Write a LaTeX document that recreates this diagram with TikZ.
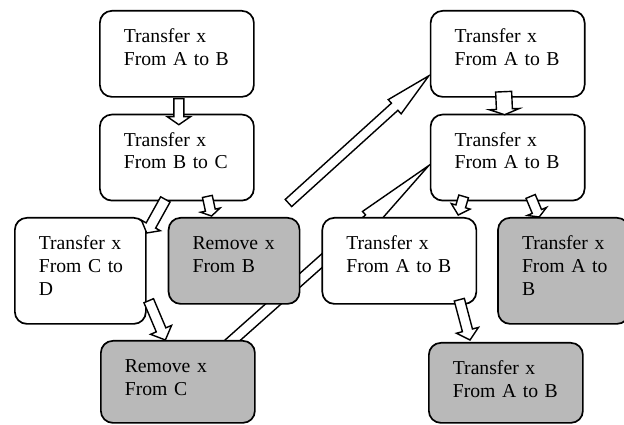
\documentclass[tikz,border=0pt]{standalone}
\usepackage{fontspec}
\setmainfont{Liberation Serif}
\usetikzlibrary{backgrounds,calc,positioning}
\tikzset{x=0.025cm, y=-0.025cm, % one unit is one pixel, y runs down
card/.style={draw, line width=1.2pt, rounded corners=0.3cm, fill=white, anchor=north west,
  align=left, text width=2.65cm, inner xsep=0.6cm, inner ysep=0pt,
  text height=0.7875cm, text depth=#1, font=\fontsize{14pt}{16.3pt}\selectfont}, % text sits top left
card/.default=1.3625cm,
narrow/.style={text width=2.075cm}, % the thinner boxes
shaded/.style={fill=gray!55}, % grey boxes
fat/.style={draw, line width=1pt, fill=white, line join=miter}, % outline of a block arrow
}
% tail, tip, half shaft, half head, head length
\newcommand\blockarrow[5]{%
\draw[fat] let \p1=(#1), \p2=(#2), \n1={atan2(\y2-\y1,\x2-\x1)} in
  ($(\p1)+({\n1+90}:#3)$) -- ($(\p2)+({\n1+180}:#5)+({\n1+90}:#3)$)
  -- ($(\p2)+({\n1+180}:#5)+({\n1+90}:#4)$) -- (\p2)
  -- ($(\p2)+({\n1+180}:#5)+({\n1-90}:#4)$) -- ($(\p2)+({\n1+180}:#5)+({\n1-90}:#3)$)
  -- ($(\p1)+({\n1-90}:#3)$) -- cycle;}

\begin{document}
\begin{tikzpicture}
\useasboundingbox (0,0) rectangle (624,425);
\node[card] (a1) at (99,10) {Transfer x\\From A to B};
\node[card, below=0.4cm of a1] (a2) {Transfer x\\From B to C};
\node[card, right=4.375cm of a1] (r1) {Transfer x\\From A to B};
\node[card, below=0.4cm of r1] (r2) {Transfer x\\From A to B};
\node[card=1.8625cm, narrow] (cd) at (14,217) {Transfer~x\\From~C~to\\D};
\node[card, narrow, shaded, right=0.525cm of cd.north east, anchor=north west] (rb) {Remove~x\\From~B};
\node[card, right=0.525cm of rb.north east, anchor=north west] (m) {Transfer x\\From A to B};
\node[card=1.8625cm, narrow, shaded, right=0.5cm of m.north east, anchor=north west] (g1) {Transfer~x\\From~A~to\\B};
\node[card=1.2625cm, shaded] (rc) at (100,340) {Remove x\\From C};
\node[card=1.2125cm, shaded] (g2) at (428,342) {Transfer x\\From A to B};

\blockarrow{$(a1.south)+(2,1)$}{$(a2.north)+(2,11)$}{0.125cm}{0.29cm}{0.2cm}
\blockarrow{$(r1.south)+(-4,-6)$}{$(r2.north)+(-3,1)$}{0.2cm}{0.375cm}{0.14cm}
\blockarrow{$(a2.south)+(-11.5,-2)$}{$(cd.north east)+(0,16)$}{0.135cm}{0.27cm}{0.215cm}
\blockarrow{$(a2.south)+(30.5,-5)$}{$(rb.north)+(-22.5,-1)$}{0.125cm}{0.25cm}{0.15cm}
\blockarrow{$(cd.south east)+(2,-24)$}{$(rc.north)+(-12.5,0)$}{0.13cm}{0.285cm}{0.275cm}
\blockarrow{$(r2.south)+(-44,-5)$}{$(m.north east)+(-19,-2)$}{0.125cm}{0.245cm}{0.225cm}
\blockarrow{$(r2.south)+(23,-5)$}{$(g1.north west)+(42,0)$}{0.125cm}{0.26cm}{0.15cm}
\blockarrow{$(m.south)+(60,-5)$}{$(g2.north west)+(42,-2)$}{0.13cm}{0.285cm}{0.25cm}

\begin{scope}[on background layer]
\coordinate (loose) at ($(rb.north east)+(-12,-14)$);
\blockarrow{loose}{$(r1.west)+(-1,22)$}{0.12cm}{0.24cm}{1.15cm}
\blockarrow{$(rc.center)+(8,0)$}{$(r2.west)+(-1,8)$}{0.13cm}{0.245cm}{2cm}
\end{scope}
\end{tikzpicture}
\end{document}
